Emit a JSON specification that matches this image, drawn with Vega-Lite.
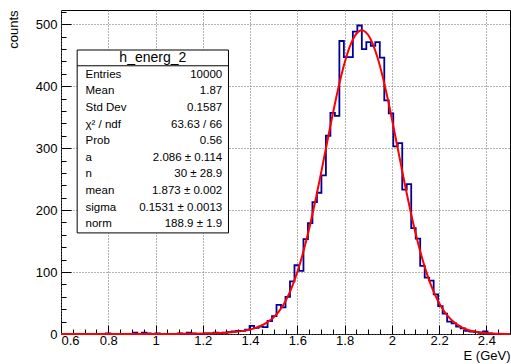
{
  "$schema": "https://vega.github.io/schema/vega-lite/v6.json",
  "width": 449,
  "height": 324,
  "autosize": {"type": "none"},
  "padding": {"left": 61, "top": 10, "right": 1, "bottom": 30},
  "background": "white",
  "config": {
    "font": "Liberation Sans",
    "view": {"stroke": "#000000", "strokeWidth": 1},
    "axis": {
      "labelFont": "Liberation Sans",
      "titleFont": "Liberation Sans",
      "labelColor": "#000000",
      "titleColor": "#000000",
      "titleFontWeight": "normal",
      "tickColor": "#000000",
      "domain": false
    }
  },
  "datasets": {
    "hist": [
      {"E": 0.6095, "counts": 0}, {"E": 0.6285, "counts": 0}, {"E": 0.6475, "counts": 0}, {"E": 0.6665, "counts": 0},
      {"E": 0.6855, "counts": 0}, {"E": 0.7045, "counts": 0}, {"E": 0.7235, "counts": 0}, {"E": 0.7425, "counts": 0},
      {"E": 0.7615, "counts": 0}, {"E": 0.7805, "counts": 0}, {"E": 0.7995, "counts": 1}, {"E": 0.8185, "counts": 0},
      {"E": 0.8375, "counts": 0}, {"E": 0.8565, "counts": 0}, {"E": 0.8755, "counts": 0}, {"E": 0.8945, "counts": 0},
      {"E": 0.9135, "counts": 2}, {"E": 0.9325, "counts": 0}, {"E": 0.9515, "counts": 2}, {"E": 0.9705, "counts": 1},
      {"E": 0.9895, "counts": 0}, {"E": 1.0085, "counts": 1}, {"E": 1.0275, "counts": 0}, {"E": 1.0465, "counts": 0},
      {"E": 1.0655, "counts": 0}, {"E": 1.0845, "counts": 0}, {"E": 1.1035, "counts": 1}, {"E": 1.1225, "counts": 0},
      {"E": 1.1415, "counts": 2}, {"E": 1.1605, "counts": 1}, {"E": 1.1795, "counts": 0}, {"E": 1.1985, "counts": 0},
      {"E": 1.2175, "counts": 1}, {"E": 1.2365, "counts": 1}, {"E": 1.2555, "counts": 2}, {"E": 1.2745, "counts": 1},
      {"E": 1.2935, "counts": 2}, {"E": 1.3125, "counts": 3}, {"E": 1.3315, "counts": 4}, {"E": 1.3505, "counts": 5},
      {"E": 1.3695, "counts": 5}, {"E": 1.3885, "counts": 7}, {"E": 1.4075, "counts": 13}, {"E": 1.4265, "counts": 10},
      {"E": 1.4455, "counts": 12}, {"E": 1.4645, "counts": 11}, {"E": 1.4835, "counts": 21}, {"E": 1.5025, "counts": 29},
      {"E": 1.5215, "counts": 47}, {"E": 1.5405, "counts": 43}, {"E": 1.5595, "counts": 60}, {"E": 1.5785, "counts": 85},
      {"E": 1.5975, "counts": 111}, {"E": 1.6165, "counts": 102}, {"E": 1.6355, "counts": 153}, {"E": 1.6545, "counts": 179},
      {"E": 1.6735, "counts": 213}, {"E": 1.6925, "counts": 228}, {"E": 1.7115, "counts": 256}, {"E": 1.7305, "counts": 320},
      {"E": 1.7495, "counts": 357}, {"E": 1.7685, "counts": 352}, {"E": 1.7875, "counts": 473}, {"E": 1.8065, "counts": 447},
      {"E": 1.8255, "counts": 447}, {"E": 1.8445, "counts": 488}, {"E": 1.8635, "counts": 498}, {"E": 1.8825, "counts": 460},
      {"E": 1.9015, "counts": 471}, {"E": 1.9205, "counts": 465}, {"E": 1.9395, "counts": 471}, {"E": 1.9585, "counts": 446},
      {"E": 1.9775, "counts": 377}, {"E": 1.9965, "counts": 356}, {"E": 2.0155, "counts": 303}, {"E": 2.0345, "counts": 308},
      {"E": 2.0535, "counts": 233}, {"E": 2.0725, "counts": 242}, {"E": 2.0915, "counts": 171}, {"E": 2.1105, "counts": 154},
      {"E": 2.1295, "counts": 110}, {"E": 2.1485, "counts": 91}, {"E": 2.1675, "counts": 86}, {"E": 2.1865, "counts": 64},
      {"E": 2.2055, "counts": 45}, {"E": 2.2245, "counts": 33}, {"E": 2.2435, "counts": 20}, {"E": 2.2625, "counts": 17},
      {"E": 2.2815, "counts": 12}, {"E": 2.3005, "counts": 9}, {"E": 2.3195, "counts": 5}, {"E": 2.3385, "counts": 4},
      {"E": 2.3575, "counts": 3}, {"E": 2.3765, "counts": 2}, {"E": 2.3955, "counts": 4}, {"E": 2.4145, "counts": 1},
      {"E": 2.4335, "counts": 0}, {"E": 2.4525, "counts": 0}, {"E": 2.4715, "counts": 0}, {"E": 2.4905, "counts": 0}
    ],
    "fit": [
      {"E": 0.6, "f": 0.001}, {"E": 0.8, "f": 0.008}, {"E": 1.0, "f": 0.067}, {"E": 1.1, "f": 0.2},
      {"E": 1.2, "f": 0.64}, {"E": 1.25, "f": 1.16}, {"E": 1.3, "f": 2.11}, {"E": 1.34, "f": 3.46},
      {"E": 1.37, "f": 5.03}, {"E": 1.4, "f": 7.36}, {"E": 1.42, "f": 9.5}, {"E": 1.44, "f": 12.3},
      {"E": 1.46, "f": 15.95}, {"E": 1.48, "f": 20.75}, {"E": 1.5, "f": 27.03}, {"E": 1.52, "f": 35.31},
      {"E": 1.54, "f": 46.25}, {"E": 1.56, "f": 60.65}, {"E": 1.58, "f": 78.55}, {"E": 1.6, "f": 100.0},
      {"E": 1.62, "f": 125.2}, {"E": 1.64, "f": 154.0}, {"E": 1.66, "f": 186.3}, {"E": 1.68, "f": 221.5},
      {"E": 1.7, "f": 258.9}, {"E": 1.72, "f": 297.6}, {"E": 1.74, "f": 336.2}, {"E": 1.76, "f": 373.4},
      {"E": 1.78, "f": 407.7}, {"E": 1.8, "f": 437.6}, {"E": 1.82, "f": 461.8}, {"E": 1.84, "f": 479.0},
      {"E": 1.86, "f": 488.5}, {"E": 1.873, "f": 490.3}, {"E": 1.88, "f": 489.8}, {"E": 1.9, "f": 482.7},
      {"E": 1.92, "f": 467.7}, {"E": 1.94, "f": 445.5}, {"E": 1.96, "f": 417.2}, {"E": 1.98, "f": 384.1},
      {"E": 2.0, "f": 347.6}, {"E": 2.02, "f": 309.2}, {"E": 2.04, "f": 270.5}, {"E": 2.06, "f": 232.5},
      {"E": 2.08, "f": 196.6}, {"E": 2.1, "f": 163.3}, {"E": 2.12, "f": 133.4}, {"E": 2.14, "f": 107.2},
      {"E": 2.16, "f": 84.6}, {"E": 2.18, "f": 65.65}, {"E": 2.2, "f": 50.11}, {"E": 2.22, "f": 37.59},
      {"E": 2.24, "f": 27.71}, {"E": 2.26, "f": 20.09}, {"E": 2.28, "f": 14.32}, {"E": 2.3, "f": 10.03},
      {"E": 2.33, "f": 5.7}, {"E": 2.36, "f": 3.11}, {"E": 2.4, "f": 1.31}, {"E": 2.45, "f": 0.4},
      {"E": 2.5, "f": 0.11}
    ],
    "stats": [
      {"row": 1, "stat": "Entries", "value": "10000"},
      {"row": 2, "stat": "Mean", "value": "1.87"},
      {"row": 3, "stat": "Std Dev", "value": "0.1587"},
      {"row": 4, "stat": "χ² / ndf", "value": "63.63 / 66"},
      {"row": 5, "stat": "Prob", "value": "0.56"},
      {"row": 6, "stat": "a", "value": "2.086 ± 0.114"},
      {"row": 7, "stat": "n", "value": "30 ± 28.9"},
      {"row": 8, "stat": "mean", "value": "1.873 ± 0.002"},
      {"row": 9, "stat": "sigma", "value": "0.1531 ± 0.0013"},
      {"row": 10, "stat": "norm", "value": "188.9 ± 1.9"}
    ]
  },
  "layer": [
    {
      "layer": [
        {
          "data": {"name": "hist"},
          "mark": {"type": "line", "interpolate": "step", "color": "#000099", "strokeWidth": 1.8},
          "encoding": {
            "x": {
              "field": "E", "type": "quantitative",
              "scale": {"domain": [0.6, 2.5], "nice": false, "zero": false},
              "axis": {
                "orient": "bottom",
                "values": [0.6, 0.8, 1.0, 1.2, 1.4, 1.6, 1.8, 2.0, 2.2, 2.4],
                "format": "~g",
                "labelFontSize": 13,
                "labelPadding": 9,
                "tickSize": -9,
                "grid": true, "gridDash": [1, 2], "gridColor": "#666666", "gridWidth": 1,
                "title": "E (GeV)", "titleFontSize": 13,
                "titleAnchor": "end", "titleAlign": "right", "titleBaseline": "alphabetic",
                "titleX": 449, "titleY": 25
              }
            },
            "y": {
              "field": "counts", "type": "quantitative",
              "scale": {"domain": [0, 523], "nice": false, "zero": true},
              "axis": {
                "orient": "left",
                "values": [0, 100, 200, 300, 400, 500],
                "labelFontSize": 13,
                "labelPadding": 14,
                "tickSize": -10,
                "grid": true, "gridDash": [1, 2], "gridColor": "#666666", "gridWidth": 1,
                "title": "counts", "titleFontSize": 13,
                "titleAngle": -90, "titleAlign": "right", "titleBaseline": "middle",
                "titleX": -48, "titleY": 0
              }
            }
          }
        },
        {
          "data": {"name": "fit"},
          "mark": {"type": "line", "interpolate": "monotone", "color": "#ff0000", "strokeWidth": 2},
          "encoding": {
            "x": {
              "field": "E", "type": "quantitative",
              "axis": {
                "orient": "bottom",
                "values": [0.65, 0.7, 0.75, 0.85, 0.9, 0.95, 1.05, 1.1, 1.15, 1.25, 1.3, 1.35, 1.45, 1.5, 1.55, 1.65, 1.7, 1.75, 1.85, 1.9, 1.95, 2.05, 2.1, 2.15, 2.25, 2.3, 2.35, 2.45],
                "labels": false, "grid": false, "tickSize": -5, "title": null
              }
            },
            "y": {
              "field": "f", "type": "quantitative",
              "axis": {
                "orient": "left",
                "values": [20, 40, 60, 80, 120, 140, 160, 180, 220, 240, 260, 280, 320, 340, 360, 380, 420, 440, 460, 480, 520],
                "labels": false, "grid": false, "tickSize": -5, "title": null
              }
            }
          }
        }
      ],
      "resolve": {"axis": {"x": "independent", "y": "independent"}}
    },
    {
      "layer": [
        {
          "data": {"values": [{"name": "h_energ_2"}]},
          "layer": [
            {
              "mark": {"type": "rect", "fill": "white", "stroke": "#000000", "strokeWidth": 1},
              "encoding": {
                "x": {"datum": 0.036, "type": "quantitative", "scale": {"domain": [0, 1], "nice": false}, "axis": null},
                "x2": {"datum": 0.373},
                "y": {"datum": -0.5, "type": "quantitative", "scale": {"domain": [-2.91, 16.61], "nice": false, "zero": false, "reverse": true}, "axis": null},
                "y2": {"datum": 10.52}
              }
            },
            {
              "mark": {"type": "rule", "color": "#000000", "strokeWidth": 1},
              "encoding": {
                "x": {"datum": 0.036, "type": "quantitative"},
                "x2": {"datum": 0.373},
                "y": {"datum": 0.45, "type": "quantitative"}
              }
            },
            {
              "mark": {"type": "text", "fontSize": 14, "align": "center", "baseline": "middle", "color": "#000000"},
              "encoding": {
                "x": {"datum": 0.2045, "type": "quantitative"},
                "y": {"datum": 0, "type": "quantitative"},
                "text": {"field": "name"}
              }
            }
          ]
        },
        {
          "data": {"name": "stats"},
          "mark": {"type": "text", "fontSize": 11.5, "align": "left", "baseline": "middle", "color": "#000000"},
          "encoding": {
            "x": {"datum": 0.0546, "type": "quantitative"},
            "y": {"field": "row", "type": "quantitative"},
            "text": {"field": "stat"}
          }
        },
        {
          "data": {"name": "stats"},
          "mark": {"type": "text", "fontSize": 11.5, "align": "right", "baseline": "middle", "color": "#000000"},
          "encoding": {
            "x": {"datum": 0.359, "type": "quantitative"},
            "y": {"field": "row", "type": "quantitative"},
            "text": {"field": "value"}
          }
        }
      ]
    }
  ],
  "resolve": {"scale": {"x": "independent", "y": "independent"}, "axis": {"x": "independent", "y": "independent"}}
}
